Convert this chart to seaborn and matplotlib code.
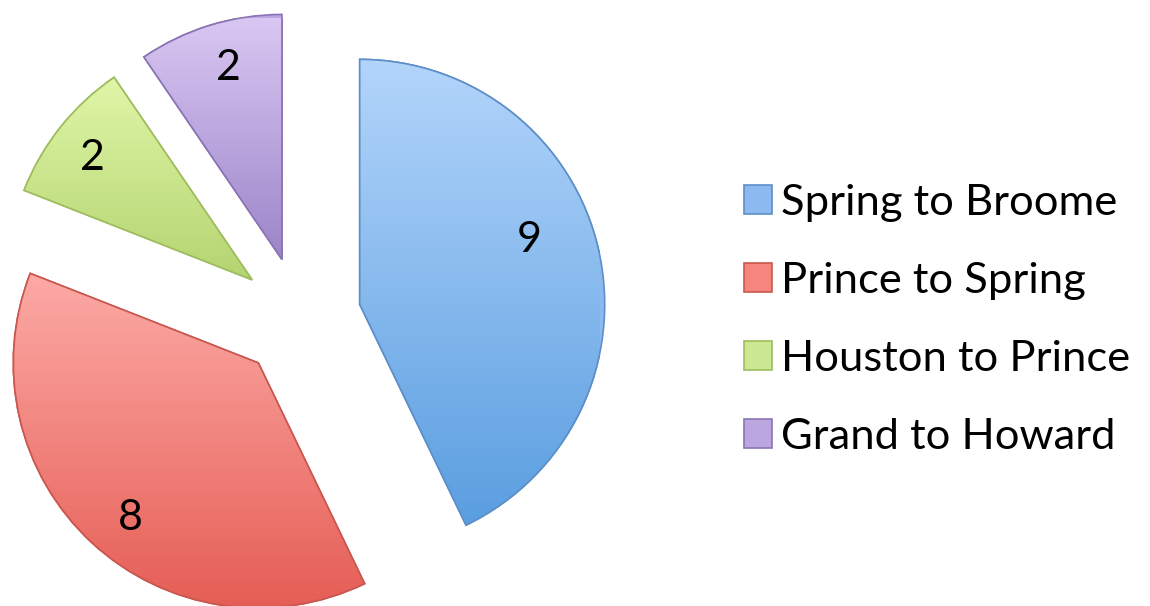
import numpy as np
import matplotlib
matplotlib.use("Agg")
import matplotlib.pyplot as plt
from matplotlib.colors import LinearSegmentedColormap
from matplotlib.patches import PathPatch
import seaborn as sns

categories = ["Spring to Broome", "Prince to Spring", "Houston to Prince", "Grand to Howard"]
values = [9, 8, 2, 2]
light_colors = ["#b3d5fb", "#fdaaa6", "#e0f6a8", "#dac8f3"]
dark_colors = ["#5a9ee0", "#e55e55", "#b4d470", "#9d85c9"]
mid_colors = ["#8cbaf0", "#f5857d", "#cde892", "#bca6e0"]
edge_colors = ["#5d8fc8", "#c9574f", "#9fbc5e", "#8a74b3"]
label_dist = [0.74, 0.82, 0.82, 0.81]
label_angle_shift = [7.8, 3.3, 1.2, -1.4]

sns.set_theme(style="white")
plt.rcParams["font.family"] = ["Lato", "DejaVu Sans"]

fig = plt.figure(figsize=(11.5, 6.06), dpi=100)
W, H = 1150, 606
cx, cy, R = 300, 318, 245
half = 300
ax = fig.add_axes([(cx - half) / W, (H - cy - half) / H, 2 * half / W, 2 * half / H])
lim = half / R

wedges, texts, autotexts = ax.pie(
    values,
    labels=None,
    colors=mid_colors,
    startangle=90,
    counterclock=False,
    explode=[0.25] * len(values),
    autopct=lambda p: f"{p * sum(values) / 100:.0f}",
    pctdistance=0.8,
    radius=1.0,
    wedgeprops=dict(edgecolor="none", linewidth=0),
    textprops=dict(fontsize=31, color="black"),
)

for w, lc, dc, ec in zip(wedges, light_colors, dark_colors, edge_colors):
    ext = w.get_path().get_extents()
    cmap = LinearSegmentedColormap.from_list("g", [dc, lc])
    grad = np.linspace(0, 1, 256).reshape(-1, 1)
    im = ax.imshow(grad, extent=[ext.x0, ext.x1, ext.y0, ext.y1], origin="lower",
                   cmap=cmap, aspect="auto", zorder=w.get_zorder() + 0.1,
                   interpolation="bilinear")
    im.set_clip_path(w)
    w.set_edgecolor(ec)
    w.set_linewidth(1.2)
    outline = PathPatch(w.get_path(), facecolor="none", edgecolor=ec,
                        linewidth=1.2, zorder=w.get_zorder() + 0.2)
    ax.add_patch(outline)

for w, t, d, s in zip(wedges, autotexts, label_dist, label_angle_shift):
    ang = np.deg2rad((w.theta1 + w.theta2) / 2 + s)
    x0, y0 = w.center
    t.set_position((x0 + d * w.r * np.cos(ang), y0 + d * w.r * np.sin(ang)))
    t.set_zorder(10)

ax.set_xlim(-lim, lim)
ax.set_ylim(-lim, lim)
ax.set_aspect("equal")
ax.axis("off")

leg = fig.legend(
    wedges, categories,
    loc="center left",
    bbox_to_anchor=(744 / W, 1 - 320 / H),
    frameon=False,
    fontsize=31.3,
    handlelength=0.64,
    handleheight=0.64,
    handletextpad=0.2,
    labelspacing=0.92,
    borderaxespad=0,
    borderpad=0,
    labelcolor="black",
)

fig.savefig("out.png", dpi=100, facecolor="white")
